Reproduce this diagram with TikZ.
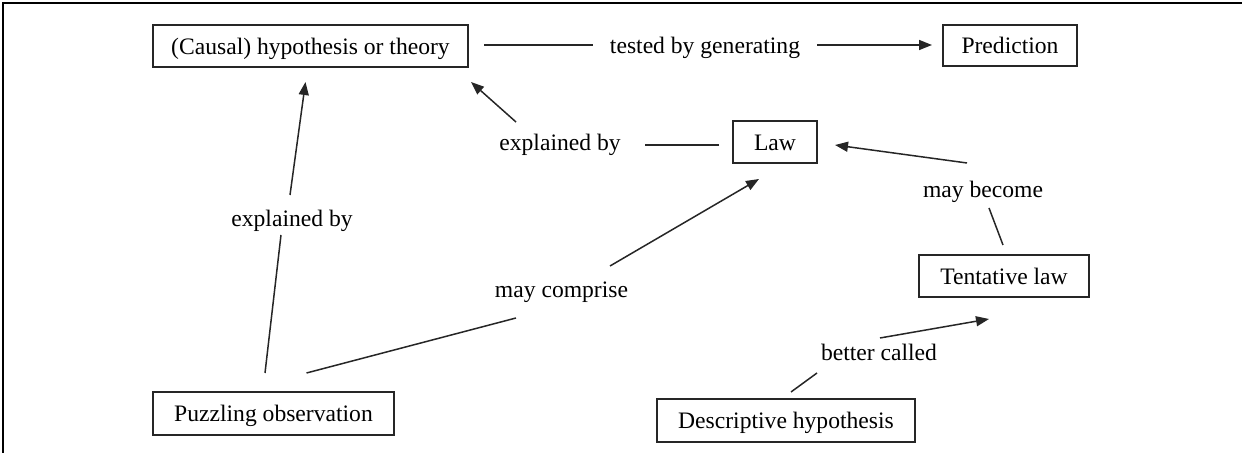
\documentclass[tikz,border=0pt]{standalone}
\usepackage{fontspec}
\setmainfont{Liberation Serif}
\usetikzlibrary{arrows.meta}
\tikzset{
  boxnode/.style={draw=black!85, line width=0.9pt, inner sep=0pt, align=center, text height=0.85em, text depth=0em},
  lbl/.style={inner sep=0pt, text height=0.85em, text depth=0em},
  conn/.style={line width=0.75pt, black!85},
  arr/.style={conn, -{Triangle[length=6.5pt,width=5pt]}},
  frame/.style={line width=0.9pt, black}
}
\begin{document}
\begin{tikzpicture}[x=0.5pt, y=-0.5pt, font=\fontsize{11.8pt}{14pt}\selectfont]
\useasboundingbox (0,0) rectangle (1242,453);
\draw[frame] (3,453) -- (3,3) -- (1242,3);
% boxes
\node[boxnode, minimum width=157.5pt, minimum height=21pt] (hyp) at (310.5,46) {(Causal) hypothesis or theory};
\node[boxnode, minimum width=67pt, minimum height=20.5pt] (pred) at (1010,45.5) {Prediction};
\node[boxnode, minimum width=42pt, minimum height=21pt] (law) at (775,142) {Law};
\node[boxnode, minimum width=85pt, minimum height=21pt] (tent) at (1004,276) {Tentative law};
\node[boxnode, minimum width=120.5pt, minimum height=21.5pt] (puzz) at (273.5,413.5) {Puzzling observation};
\node[boxnode, minimum width=129pt, minimum height=21.5pt] (desc) at (786,420.5) {Descriptive hypothesis};
% labels
\node[lbl] (l1) at (705,45) {tested by generating};
\node[lbl] (l2) at (560,142) {explained by};
\node[lbl] (l3) at (292,218) {explained by};
\node[lbl] (l4) at (561.5,289) {may comprise};
\node[lbl] (l5) at (983,189) {may become};
\node[lbl] (l6) at (879,352) {better called};
% connectors
\draw[conn] ([shift={(173.5,-1)}]hyp.center) -- ([shift={(-112,0)}]l1.center);
\draw[arr] ([shift={(112,0)}]l1.center) -- ([shift={(-78,-0.5)}]pred.center);
\draw[conn] ([shift={(-56,3)}]law.center) -- ([shift={(85,3)}]l2.center);
\draw[arr] ([shift={(-44,-20)}]l2.center) -- ([shift={(160.5,36)}]hyp.center);
\draw[conn] ([shift={(-8.5,-40.5)}]puzz.center) -- ([shift={(-11,17)}]l3.center);
\draw[arr] ([shift={(-2,-23)}]l3.center) -- ([shift={(-5,36)}]hyp.center);
\draw[conn] ([shift={(33,-40.5)}]puzz.center) -- ([shift={(-45.5,29)}]l4.center);
\draw[arr] ([shift={(48.5,-23)}]l4.center) -- ([shift={(-16,37)}]law.center);
\draw[conn] ([shift={(-1,-31)}]tent.center) -- ([shift={(6,19)}]l5.center);
\draw[arr] ([shift={(-16,-26)}]l5.center) -- ([shift={(60,3)}]law.center);
\draw[conn] ([shift={(5,-28.5)}]desc.center) -- ([shift={(-62,21)}]l6.center);
\draw[arr] ([shift={(1,-14)}]l6.center) -- ([shift={(-15,43)}]tent.center);
\end{tikzpicture}
\end{document}
